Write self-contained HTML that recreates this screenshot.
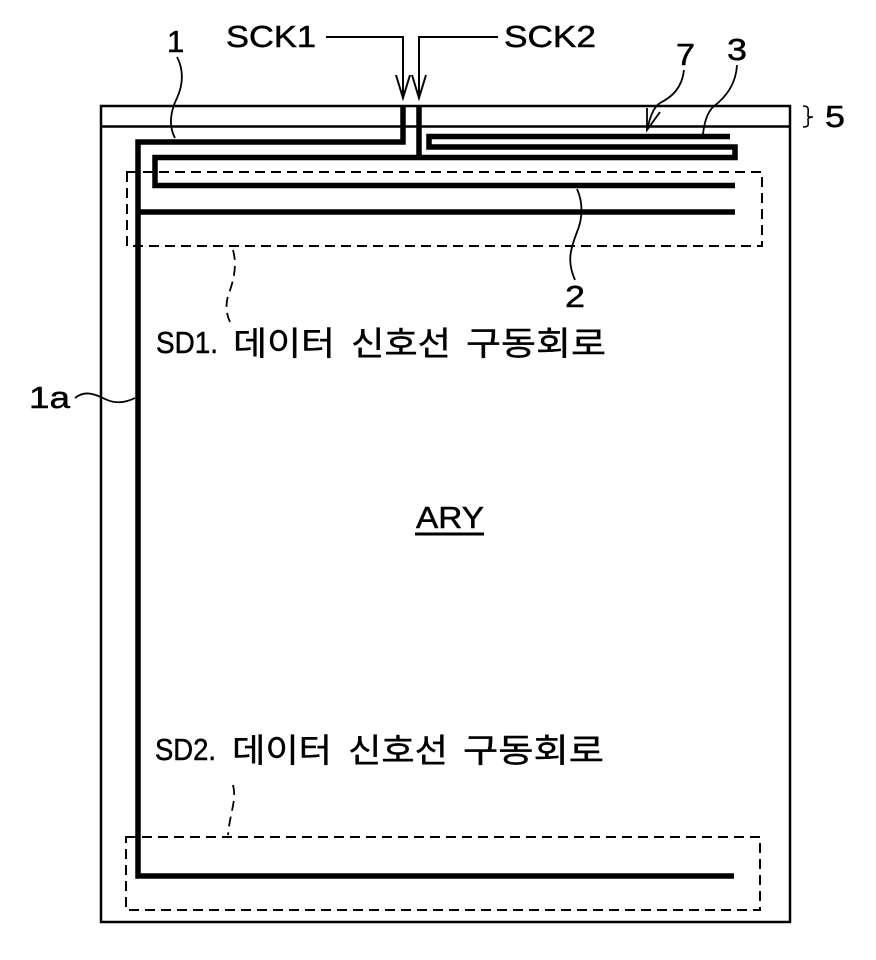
<!DOCTYPE html>
<html><head><meta charset="utf-8"><style>
html,body{margin:0;padding:0;background:#fff;width:876px;height:960px;overflow:hidden}
svg{display:block}
text{fill:#000;stroke:#000;stroke-width:.5px;font-family:"Liberation Sans",sans-serif}
.k{font-family:"Noto Sans CJK KR","NanumGothic",sans-serif;font-size:33px;stroke-width:.4px}
.n{font-size:31px}
</style></head><body>
<svg width="876" height="960" viewBox="0 0 876 960" xmlns="http://www.w3.org/2000/svg">
<g fill="none" stroke="#000">
<!-- frame -->
<rect x="101" y="106" width="689" height="816" stroke-width="2.5"/>
<line x1="101" y1="126.5" x2="790" y2="126.5" stroke-width="2.5"/>
<!-- dashed boxes -->
<rect x="127" y="172" width="635" height="74" stroke-width="2" stroke-dasharray="10 6"/>
<rect x="126" y="837" width="634" height="73" stroke-width="2" stroke-dasharray="10 6"/>
<!-- line 1 -->
<path d="M403 106V142H138V876H734" stroke-width="5.5"/>
<path d="M138 212H735" stroke-width="5.5"/>
<!-- line 2 -->
<path d="M419 106V157.5" stroke-width="5.5"/>
<path d="M735 185.5H155V157.5H735V147H429V136.5H730" stroke-width="5.5"/>
<!-- SCK arrows -->
<path d="M326 37H403V98M396 75L403 98L410 75" stroke-width="2"/>
<path d="M498 37H419V98M412 75L419 98L426 75" stroke-width="2"/>
<!-- leaders -->
<path d="M177 57C184 70 183 85 177 98C171 110 168 125 175 138" stroke-width="1.8"/>
<path d="M684 70C682 88 672 97 660 103C652 108 649 122 647 130M647 108V130L660 112" stroke-width="1.8"/>
<path d="M737 65C736 85 725 98 713 107C706 114 704 125 703 134" stroke-width="1.8"/>
<path d="M577 189C583 202 583 218 577 232C570 250 567 262 575 280" stroke-width="1.8"/>
<path d="M803 106C810 106 808 110 808 116C808 117 811 117 813 117C811 117 808 118 808 119C808 124 810 127 803 127" stroke-width="1.6"/>
<path d="M233 250C238 268 232 285 228 296C225 306 227 316 230 322" stroke-width="1.8" stroke-dasharray="10 6"/>
<path d="M233 785C237 800 230 812 228 835" stroke-width="1.8" stroke-dasharray="10 6"/>
<path d="M75 398C85 390 95 394 105 399C115 404 125 403 135 398" stroke-width="1.8"/>
<!-- ARY underline -->
<line x1="415" y1="534" x2="484" y2="534" stroke-width="3"/>
</g>
<text class="n" x="226" y="47" textLength="90" lengthAdjust="spacingAndGlyphs">SCK1</text>
<text class="n" x="504" y="47" textLength="92" lengthAdjust="spacingAndGlyphs">SCK2</text>
<text class="n" x="167" y="52">1</text>
<text class="n" x="676" y="65" textLength="19" lengthAdjust="spacingAndGlyphs">7</text>
<text class="n" x="727" y="60" textLength="20" lengthAdjust="spacingAndGlyphs">3</text>
<text class="n" x="825" y="127" textLength="20" lengthAdjust="spacingAndGlyphs">5</text>
<text class="n" x="565" y="307" textLength="20" lengthAdjust="spacingAndGlyphs">2</text>
<text class="n" x="29" y="408" textLength="41" lengthAdjust="spacingAndGlyphs">1a</text>
<text class="n" x="416" y="528" textLength="68" lengthAdjust="spacingAndGlyphs">ARY</text>

<text x="156" y="353" font-size="31" textLength="62" lengthAdjust="spacingAndGlyphs">SD1.</text>
<text class="k" x="233" y="355" textLength="102" lengthAdjust="spacingAndGlyphs">데이터</text>
<text class="k" x="351" y="355" textLength="100" lengthAdjust="spacingAndGlyphs">신호선</text>
<text class="k" x="466" y="355" textLength="140" lengthAdjust="spacingAndGlyphs">구동회로</text>

<text x="155" y="760" font-size="31" textLength="61" lengthAdjust="spacingAndGlyphs">SD2.</text>
<text class="k" x="232" y="762" textLength="100" lengthAdjust="spacingAndGlyphs">데이터</text>
<text class="k" x="348" y="762" textLength="100" lengthAdjust="spacingAndGlyphs">신호선</text>
<text class="k" x="463" y="762" textLength="141" lengthAdjust="spacingAndGlyphs">구동회로</text>
</svg>
</body></html>
